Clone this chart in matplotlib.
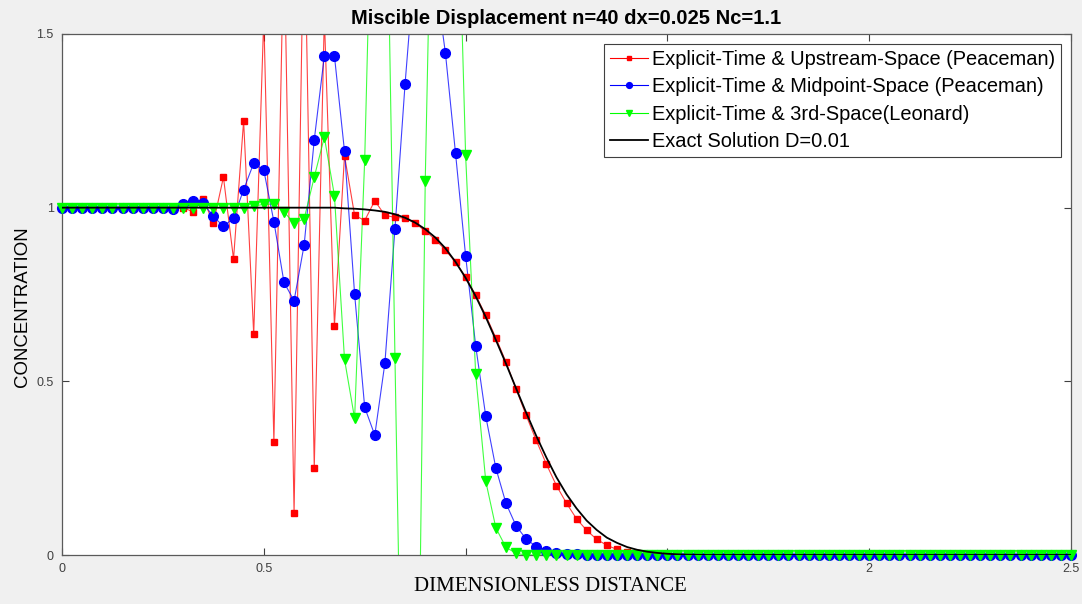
import numpy as np
import matplotlib
matplotlib.use("Agg")
import matplotlib.pyplot as plt
from matplotlib.lines import Line2D

plt.rcParams['font.family'] = ['Liberation Sans', 'DejaVu Sans']

# grid: n=40 per unit length, dx=0.025 over 0..2.5
x = np.round(np.arange(101) * 0.025, 4)

# explicit time, upstream space (Peaceman)
upstream = ([1.0] * 13 +
            [0.988, 1.026, 0.955, 1.088, 0.852, 1.25, 0.635, 1.55, 0.325, 1.8,
             0.12, 1.9, 0.25, 1.55, 0.66, 1.15, 0.978, 0.963, 1.02, 0.978,
             0.972, 0.97, 0.955, 0.933, 0.908, 0.878, 0.843, 0.80, 0.748, 0.69,
             0.625, 0.556, 0.478, 0.402, 0.330, 0.262, 0.200, 0.149, 0.104, 0.071,
             0.045, 0.028, 0.016, 0.010, 0.005, 0.003, 0.001] +
            [0.0] * 41)

# explicit time, midpoint space (Peaceman)
midpoint = ([1.0] * 11 +
            [0.996, 1.01, 1.02, 1.012, 0.975, 0.946, 0.97, 1.052, 1.128, 1.108,
             0.96, 0.785, 0.732, 0.893, 1.195, 1.437, 1.437, 1.162, 0.751, 0.425,
             0.345, 0.552, 0.94, 1.356, 1.72, 1.85, 1.66, 1.445, 1.157, 0.862,
             0.602, 0.399, 0.25, 0.149, 0.084, 0.046, 0.024, 0.012, 0.007, 0.004,
             0.002, 0.001] +
            [0.0] * 48)

# explicit time, third-order space (Leonard)
third = ([1.0] * 19 +
         [1.004, 1.01, 1.01, 0.988, 0.955, 0.968, 1.088, 1.203, 1.035, 0.563,
          0.393, 1.138, 2.3, 2.3, 0.566, -1.07, -1.2, 1.078, 2.5, 2.6,
          2.2, 1.152, 0.52, 0.212, 0.078, 0.022, 0.005] +
         [0.0] * 55)

# exact solution, D=0.01
exact = ([1.0] * 28 +
         [0.998, 0.997, 0.995, 0.992, 0.988, 0.981, 0.971, 0.957, 0.938, 0.914,
          0.883, 0.844, 0.798, 0.745, 0.685, 0.619, 0.551, 0.480, 0.410, 0.343,
          0.281, 0.224, 0.175, 0.134, 0.099, 0.072, 0.050, 0.035, 0.023, 0.015,
          0.0095, 0.006, 0.0035, 0.002, 0.001, 0.0006] +
         [0.0] * 37)

labels = ['Explicit-Time & Upstream-Space (Peaceman)',
          'Explicit-Time & Midpoint-Space (Peaceman)',
          'Explicit-Time & 3rd-Space(Leonard)',
          'Exact Solution D=0.01']

fig = plt.figure(figsize=(10.82, 6.04), dpi=100, facecolor='#f0f0f0')
ax = fig.add_axes([62 / 1082, 49 / 604, 1009 / 1082, 521 / 604])
ax.set_facecolor('white')

handles = []
series = [(upstream, '#ff0000', 's', 5.0),
          (midpoint, '#0000ff', 'o', 7.0),
          (third, '#00ff00', 'v', 7.0)]
for (y, c, m, ms), lab in zip(series, labels[:3]):
    y = np.array(y)
    ax.plot(x, y, '-', color=c, lw=0.8, alpha=0.75, zorder=2)
    # markers are not clipped at the frame, only points inside the range get one
    ym = np.ma.masked_outside(y, 0, 1.5)
    ax.plot(x, ym, ls='none', marker=m, ms=ms, color=c, mec=c,
            clip_on=False, zorder=3)
    handles.append(Line2D([], [], color=c, lw=0.8, marker=m, ms=ms * 0.6, label=lab))

ax.plot(x, exact, '-', color='black', lw=1.3, zorder=4)
handles.append(Line2D([], [], color='black', lw=1.3, label=labels[3]))

ax.set_xlim(0, 2.5)
ax.set_ylim(0, 1.5)
ax.set_xticks([0, 0.5, 1, 1.5, 2, 2.5])
ax.set_xticklabels(['0', '0.5', '', '', '2', '2.5'])
ax.set_yticks([0, 0.5, 1, 1.5])
ax.set_yticklabels(['0', '0.5', '1', '1.5'])
ax.tick_params(direction='in', top=True, right=True, length=5, width=0.8,
               labelsize=9, colors='#404040', pad=6)
for s in ax.spines.values():
    s.set_color('#5a5a5a')
    s.set_linewidth(0.9)

ax.set_title('Miscible Displacement n=40 dx=0.025 Nc=1.1', fontsize=14.5,
             fontweight='bold', pad=7)
ax.set_ylabel('CONCENTRATION', fontsize=13.4)
ax.yaxis.set_label_coords(-0.031, 0.477)
ax.set_xlabel('DIMENSIONLESS DISTANCE', fontsize=15,
              family=['Liberation Serif', 'DejaVu Serif'])
ax.xaxis.set_label_coords(0.484, -0.043)

leg = ax.legend(handles=handles, loc='upper right', fontsize=14.4,
                fancybox=False, framealpha=1, edgecolor='#404040',
                borderaxespad=0.5, handlelength=1.9, handletextpad=0.2,
                labelspacing=0.42, borderpad=0.3)
leg.get_frame().set_linewidth(0.8)

fig.savefig('out.png', dpi=100, facecolor=fig.get_facecolor())
